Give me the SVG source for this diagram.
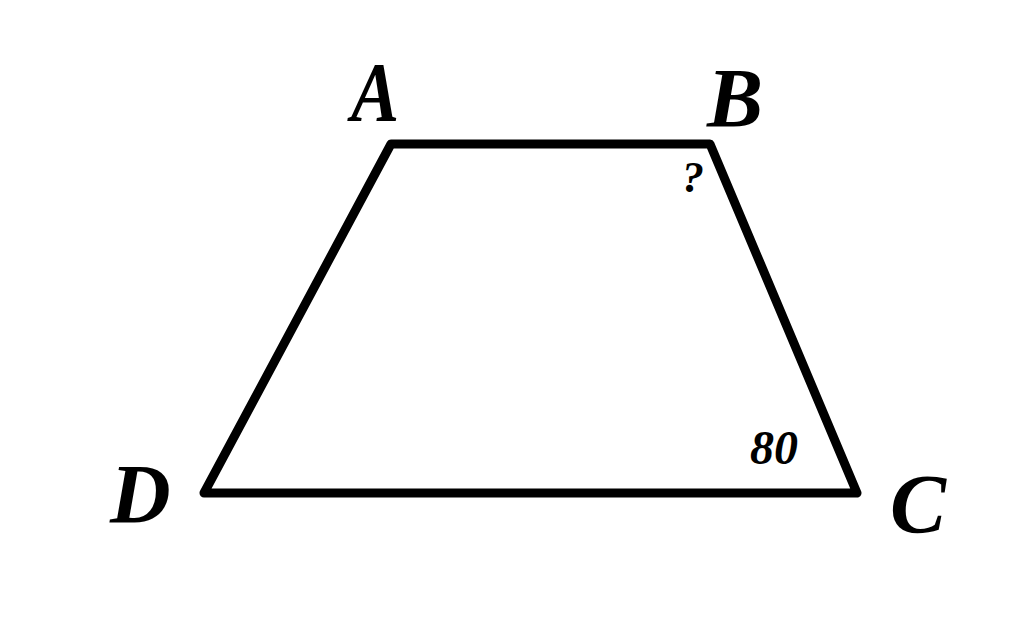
<svg xmlns="http://www.w3.org/2000/svg" width="1024" height="617" viewBox="0 0 1024 617">
<style>
.lbl{font-family:"Liberation Serif","Times New Roman",serif;font-weight:bold;font-style:italic;fill:#000}
.big{font-size:84px}
.sm{font-size:44px}
</style>
<rect width="1024" height="617" fill="#fff"/>
<g id="connectors">
<polygon points="391,144 710,144 857,493 204,493" fill="none" stroke="#000" stroke-width="9" stroke-linejoin="round"/>
</g>
<g id="A"><text class="lbl big" transform="translate(351,121) scale(0.86,1)" x="0" y="0">A</text></g>
<g id="B"><text class="lbl big" x="707" y="127">B</text></g>
<g id="C"><text class="lbl big" x="890" y="533">C</text></g>
<g id="D"><text class="lbl big" x="110" y="523">D</text></g>
<g id="angleB"><text class="lbl sm" x="682" y="192">?</text></g>
<g id="angleC"><text class="lbl" style="font-size:48px" x="750" y="464">80</text></g>
</svg>
